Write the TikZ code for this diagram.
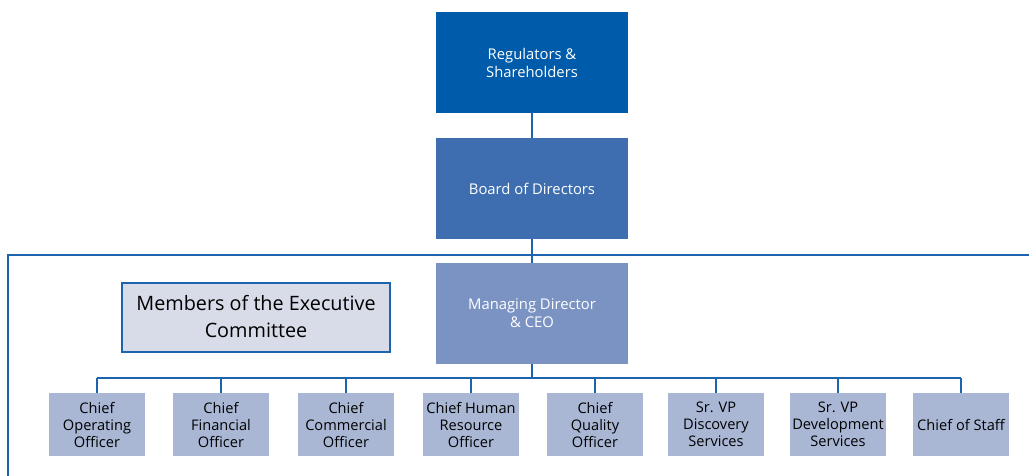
\documentclass[tikz,border=0pt]{standalone}
\usepackage{fontspec}
\setmainfont{Open Sans}
\usepackage{tikz}
\definecolor{regcol}{HTML}{005BAA}
\definecolor{boardcol}{HTML}{3E6EB0}
\definecolor{mdcol}{HTML}{7A93C3}
\definecolor{chiefcol}{HTML}{A9B7D4}
\definecolor{memcol}{HTML}{D8DCE8}
\definecolor{linecol}{HTML}{1C64AE}
\tikzset{
  topbox/.style={minimum width=192pt, minimum height=101pt, inner sep=0pt,
    align=center, text=white, font=\fontsize{14.8}{18}\selectfont},
  chiefbox/.style={fill=chiefcol, minimum width=96pt, minimum height=63pt,
    inner sep=0pt, align=center, font=\fontsize{14.6}{17}\selectfont},
  link/.style={draw=linecol, line width=2pt}
}
\begin{document}
\begin{tikzpicture}[x=1pt, y=-1pt]
                \useasboundingbox (0,0) rectangle (1029,476);
                \clip (0,0) rectangle (1029,476);
                % Frame
                \draw[linecol, line width=1.3pt] (8,490) |- (1040,255);

                % Top of the chart
                \node[topbox, fill=regcol] (reg) at (532,62.5) {Regulators \&\\Shareholders};
                \node[topbox, fill=boardcol] (board) at (532,188.5) {Board of Directors};
                \node[topbox, fill=mdcol] (md) at (532,313.5) {Managing Director\\\& CEO};
                \draw[link] (reg) -- (board);
                \draw[link] (board) -- (md);

                % Label box
                \node[draw=linecol, line width=2pt, fill=memcol, minimum width=268pt,
                      minimum height=69pt, inner sep=0pt, align=center,
                      font=\fontsize{19.8}{27}\selectfont] (members) at (256,317)
                      {Members of the Executive\\Committee};

                % Executive committee
                \node[chiefbox] (coo) at (97,424.5) {Chief\\Operating\\Officer};
                \node[chiefbox] (cfo) at (221,424.5) {Chief\\Financial\\Officer};
                \node[chiefbox] (cco) at (346,424.5) {Chief\\Commercial\\Officer};
                \node[chiefbox] (chro) at (471,424.5) {Chief Human\\Resource\\Officer};
                \node[chiefbox] (cqo) at (595,424.5) {Chief\\Quality\\Officer};
                \node[chiefbox] (disc) at (716,424.5) {Sr. VP\\Discovery\\Services};
                \node[chiefbox] (dev) at (838,424.5) {Sr. VP\\Development\\Services};
                \node[chiefbox] (cos) at (961,424.5) {Chief of Staff};

                % Bus
                \coordinate (bus) at (532,378);
                \draw[link] (md) -- (bus);
                \draw[link, line width=2.5pt] (coo.north |- bus) -- (cos.north |- bus);
                \foreach \c in {coo,cfo,cco,chro,cqo,disc,dev,cos}
                    \draw[link] (bus -| \c.north) -- (\c.north);
            \end{tikzpicture}
\end{document}
